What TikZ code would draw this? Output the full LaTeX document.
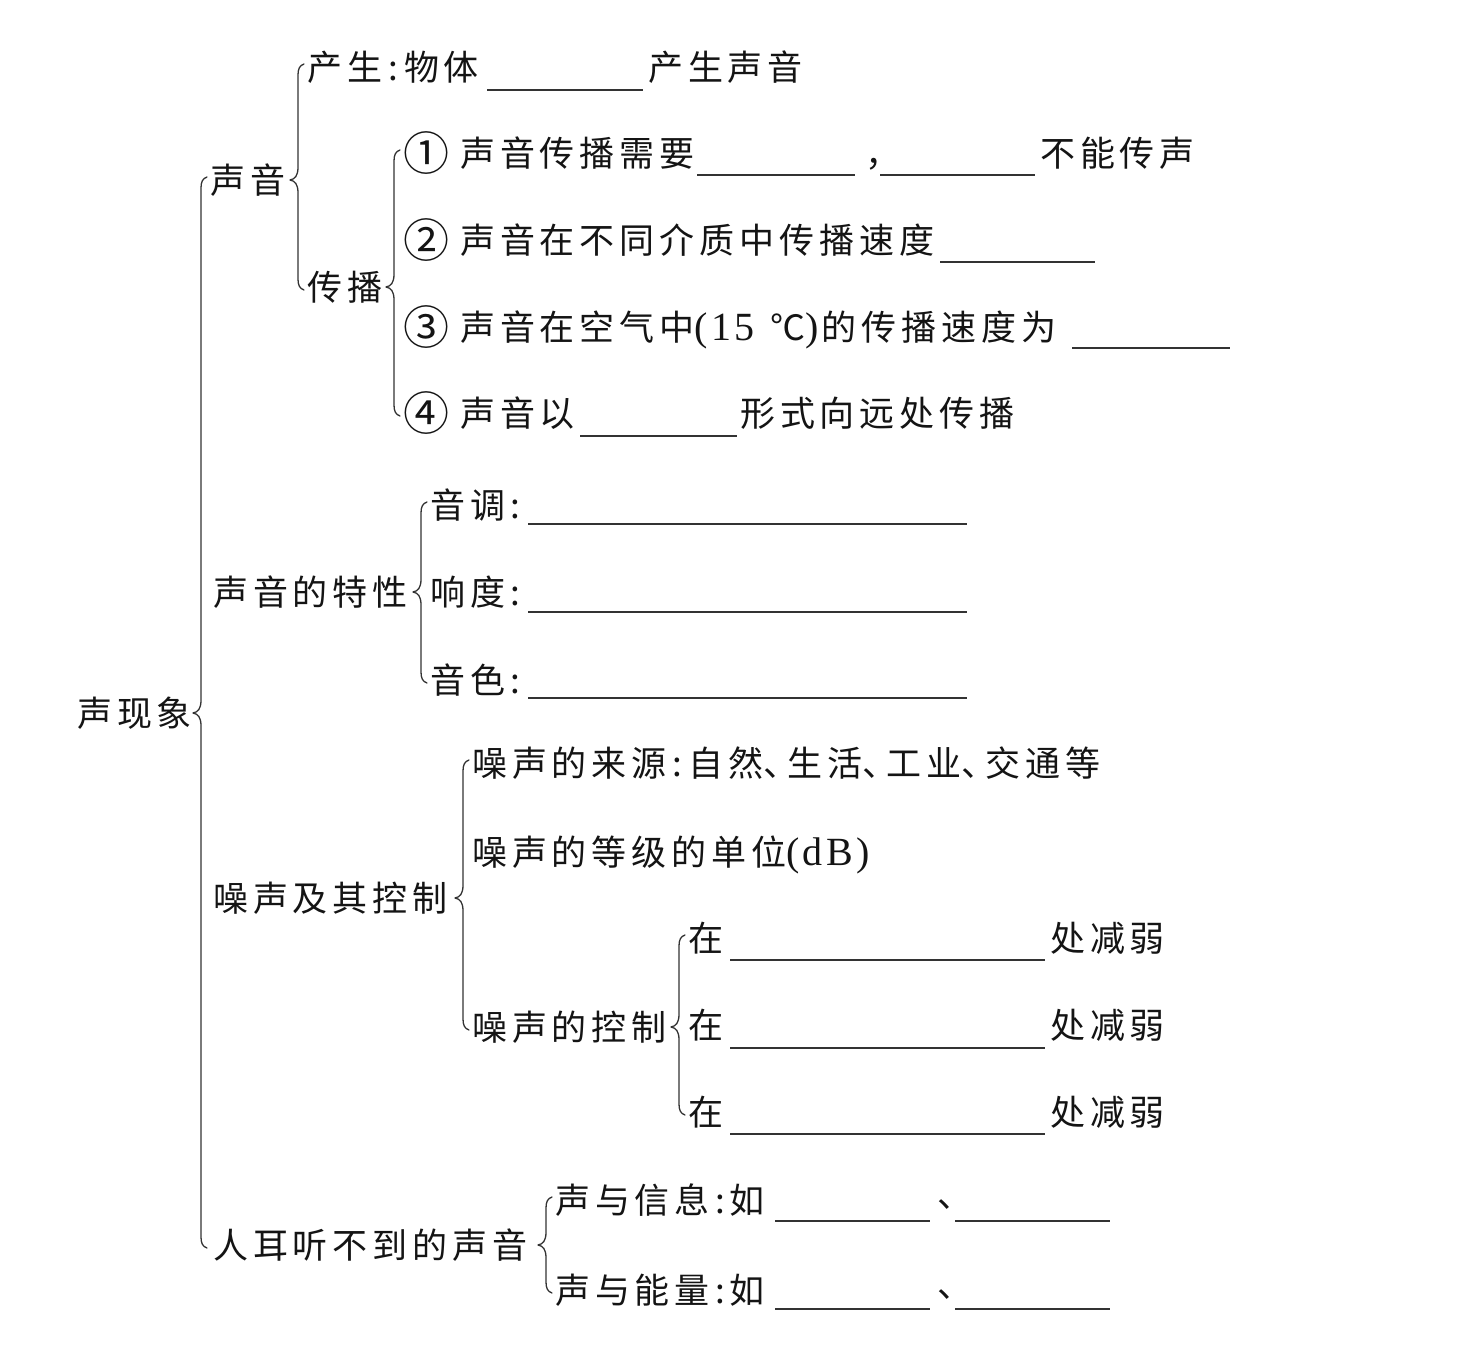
\documentclass[tikz,border=0pt]{standalone}
\usepackage{fontspec}
\setmainfont{Noto Sans CJK SC}[LetterSpace=14]
\newfontfamily\lat{Liberation Serif}[LetterSpace=8]
\usetikzlibrary{calc}
\tikzset{
  txt/.style={anchor=west, inner sep=0pt, font=\fontsize{35}{40}\selectfont, text height=31pt, text depth=4pt, text=black!92},
  circ/.style={txt, font=\fontsize{46}{50}\selectfont, text height=40pt, text depth=6pt},
  bl/.style={anchor=west, rectangle, inner sep=0pt, minimum height=1.4pt, minimum width=#1, fill=black!80, draw=none},
  brc/.style={line width=1.3pt, draw=black!80, line cap=round, line join=round},
}
\newcommand\LL[1]{{\lat\fontsize{40}{40}\selectfont #1}}
\newcommand\dun{\makebox[24pt][l]{、}}
\newcommand\curly[3]{%
  \draw[brc] let \p1=(#1.east), \p2=(#2.west), \p3=(#3.west), \n1={min(\x2,\x3)-9pt} in
    ({\n1+6pt},{\y2+3pt}) .. controls ({\n1+1.5pt},{\y2+1.5pt}) and (\n1,{\y2-2pt}) .. (\n1,{\y2-8pt})
    -- (\n1,{\y1+13pt}) .. controls (\n1,{\y1+4pt}) and ({\n1-3pt},{\y1+1pt}) .. ({\n1-8pt},\y1)
    .. controls ({\n1-3pt},{\y1-1pt}) and (\n1,{\y1-4pt}) .. (\n1,{\y1-13pt})
    -- (\n1,{\y3+8pt}) .. controls (\n1,{\y3+2pt}) and ({\n1+1.5pt},{\y3-1.5pt}) .. ({\n1+6pt},{\y3-3pt});
}
\begin{document}
\begin{tikzpicture}[x=1pt,y=-1pt]
\useasboundingbox[fill=white] (0,0) rectangle (1473,1354);
% level 0
\node[txt] (root) at (77,713) {声现象};
% level 1
\node[txt] (sy) at (210,180) {声音};
\node[txt] (tx) at (213,592) {声音的特性};
\node[txt] (zs) at (213,898) {噪声及其控制};
\node[txt] (re) at (213,1245) {人耳听不到的声音};
% 声音
\node[txt] (cs) at (307,67) {产生\makebox[22pt]{:}物体};
\node[bl=156pt] (b0) at (487,90) {};
\node[txt] (cs2) at (648,67) {产生声音};
\node[txt] (cb) at (307,287) {传播};
% 传播
\node[circ] (n1) at (403,153) {①};
\node[txt] (t1) at (460,153) {声音传播需要};
\node[bl=158pt] (b1a) at (697,175) {};
\node[txt] (cm) at (865,153) {，};
\node[bl=155pt] (b1b) at (880,175) {};
\node[txt] (t1b) at (1040,153) {不能传声};
\node[circ] (n2) at (403,240) {②};
\node[txt] (t2) at (460,240) {声音在不同介质中传播速度};
\node[bl=155pt] (b2) at (940,262) {};
\node[circ] (n3) at (403,327) {③};
\node[txt] (t3) at (460,327) {声音在空气中\LL{(15\hspace{16pt}}℃\LL{)}\hspace{3pt}的传播速度为};
\node[bl=158pt] (b3) at (1072,348) {};
\node[circ] (n4) at (403,413) {④};
\node[txt] (t4) at (460,413) {声音以};
\node[bl=157pt] (b4) at (580,436) {};
\node[txt] (t4b) at (740,413) {形式向远处传播};
% 声音的特性
\node[txt] (a1) at (430,505) {音调\makebox[20pt]{:}};
\node[bl=439pt] (ba1) at (528,524) {};
\node[txt] (a2) at (430,592) {响度\makebox[20pt]{:}};
\node[bl=439pt] (ba2) at (528,612) {};
\node[txt] (a3) at (430,680) {音色\makebox[20pt]{:}};
\node[bl=439pt] (ba3) at (528,698) {};
% 噪声及其控制
\node[txt] (z1) at (472,763) {噪声的来源\makebox[22pt]{:}自然\dun 生活\dun 工业\dun 交通等};
\node[txt] (z2) at (472,852) {噪声的等级的单位\LL{(dB)}};
\node[txt] (z3) at (472,1027) {噪声的控制};
\node[txt] (k1) at (688,938) {在};
\node[bl=315pt] (bk1) at (730,960) {};
\node[txt] (k1b) at (1050,938) {处减弱};
\node[txt] (k2) at (688,1025) {在};
\node[bl=315pt] (bk2) at (730,1048) {};
\node[txt] (k2b) at (1050,1025) {处减弱};
\node[txt] (k3) at (688,1112) {在};
\node[bl=315pt] (bk3) at (730,1134) {};
\node[txt] (k3b) at (1050,1112) {处减弱};
% 人耳听不到的声音
\node[txt] (r1) at (555,1200) {声与信息\makebox[20pt]{:}如};
\node[bl=155pt] (br1a) at (775,1221) {};
\node[txt] (d1) at (937,1194) {、};
\node[bl=155pt] (br1b) at (955,1221) {};
\node[txt] (r2) at (555,1290) {声与能量\makebox[20pt]{:}如};
\node[bl=155pt] (br2a) at (775,1309) {};
\node[txt] (d2) at (937,1284) {、};
\node[bl=155pt] (br2b) at (955,1309) {};
% braces
\curly{root}{sy}{re}
\curly{sy}{cs}{cb}
\curly{cb}{n1}{n4}
\curly{tx}{a1}{a3}
\curly{zs}{z1}{z3}
\curly{z3}{k1}{k3}
\curly{re}{r1}{r2}
\end{tikzpicture}
\end{document}
